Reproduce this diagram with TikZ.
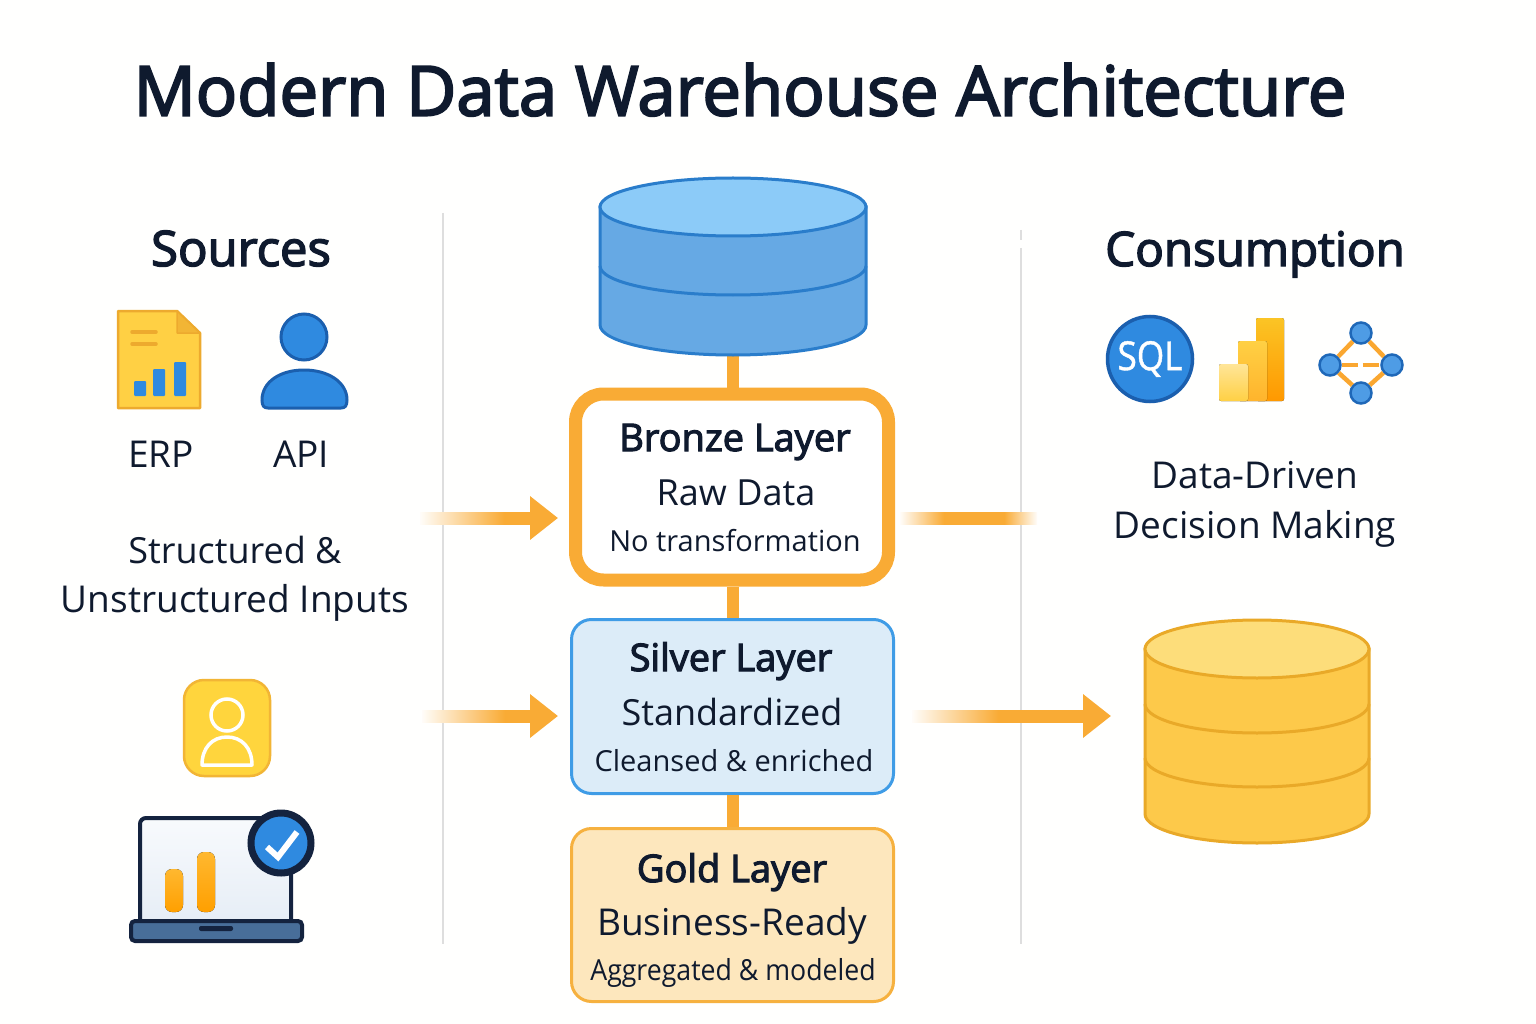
\documentclass[tikz,border=0pt]{standalone}
\usepackage{fontspec}
\setmainfont{Open Sans}
\newfontfamily\semifont{Open Sans}[FakeBold=3]
\newfontfamily\narrowfont{Open Sans}[FakeStretch=0.92]
\newfontfamily\sqlfont{Open Sans}[FakeStretch=0.88, FakeBold=1]
\usetikzlibrary{arrows.meta,calc}

\definecolor{inkc}{HTML}{0F1A2E}
\definecolor{linkc}{HTML}{F9AB35}
\colorlet{linkfade}{linkc!3}
\definecolor{rulec}{HTML}{DEDEDE}
\definecolor{bluefill}{HTML}{2F8AE0}
\definecolor{blueline}{HTML}{1B5FAE}
\definecolor{yellowfill}{HTML}{FFD044}
\definecolor{yellowline}{HTML}{EDAA2E}
\definecolor{navyc}{HTML}{14233F}
\definecolor{silverfill}{HTML}{DCECF8}
\definecolor{silverline}{HTML}{3F9CE6}
\definecolor{goldfill}{HTML}{FDE7BD}
\definecolor{goldline}{HTML}{F6B13F}
\definecolor{rawbody}{HTML}{66A9E4}
\definecolor{rawtop}{HTML}{8CCBF8}
\definecolor{rawline}{HTML}{2A7DCB}
\definecolor{martbody}{HTML}{FDC94A}
\definecolor{marttop}{HTML}{FDDD7A}
\definecolor{martline}{HTML}{E9A928}

\pgfdeclarehorizontalshading{fadeshort}{100bp}{color(0bp)=(linkfade); color(25bp)=(linkfade); color(63bp)=(linkc); color(100bp)=(linkc)}
\pgfdeclarehorizontalshading{fadelong}{100bp}{color(0bp)=(linkfade); color(25bp)=(linkfade); color(50bp)=(linkc); color(100bp)=(linkc)}
\pgfdeclarehorizontalshading{fadeboth}{100bp}{color(0bp)=(linkfade); color(25bp)=(linkfade); color(41bp)=(linkc); color(63bp)=(linkc); color(75bp)=(linkfade); color(100bp)=(linkfade)}

\tikzset{
    titletext/.style={anchor=base, text=inkc, font=\semifont\fontsize{68.8}{68}\selectfont},
    headtext/.style={anchor=base, text=inkc, font=\semifont\fontsize{49}{49}\selectfont},
    bodytext/.style={anchor=base, text=inkc, font=\fontsize{37}{37}\selectfont},
    layername/.style={anchor=base, text=inkc, font=\semifont\fontsize{38}{38}\selectfont},
    layersub/.style={anchor=base, text=inkc, font=\fontsize{36}{36}\selectfont},
    layernote/.style={anchor=base, text=inkc, font=\fontsize{29}{29}\selectfont},
    layerbox/.style={draw, minimum width=322pt, minimum height=174pt, rounded corners=20pt, line width=3pt},
    link/.style={draw=linkc, line width=12pt},
    flowarrow/.style={draw=linkc, fill=linkc, line width=12pt, -{Triangle[length=28pt, width=42pt]}},
    netnode/.style={circle, draw=blueline!80!bluefill, fill=bluefill!85!white, line width=2.5pt, minimum size=21pt, inner sep=0pt},
    netline/.style={draw=linkc!90!orange, line width=4.5pt},
    rulerline/.style={draw=rulec, line width=1.5pt},
}

\begin{document}
\begin{tikzpicture}[x=1pt, y=-1pt]
    \useasboundingbox (0,0) rectangle (1536,1024);
    \fill[white!99.5!yellow] (0,0) rectangle (1536,1024);

    % Titulo
    \node[titletext] (title) at (740,115.5) {Modern Data Warehouse Architecture};

    % Separadores
    \draw[rulerline] (443,213) -- (443,944);
    \draw[rulerline] (1021,230) -- (1021,240);
    \draw[rulerline] (1021,248) -- (1021,944);

    % Capas
    \node[layerbox, draw=linkc, fill=white, minimum width=313pt, minimum height=186pt, rounded corners=28pt, line width=13pt] (bronze) at (732,487) {};
    \node[layerbox, draw=silverline, fill=silverfill] (silver) at (732.5,706.5) {};
    \node[layerbox, draw=goldline, fill=goldfill, minimum height=173pt] (gold) at (732.5,915) {};

    \node[layername] (bronzename) at (735,451) {Bronze Layer};
    \node[layersub] (bronzesub) at (736,505) {Raw Data};
    \node[layernote] (bronzenote) at (735,551) {No transformation};
    \node[layername] (silvername) at (731,671) {Silver Layer};
    \node[layersub] (silversub) at (732,725) {Standardized};
    \node[layernote] (silvernote) at (734,771) {Cleansed \& enriched};
    \node[layername] (goldname) at (732,882) {Gold Layer};
    \node[layersub, font=\fontsize{37}{37}\selectfont] (goldsub) at (732,935) {Business-Ready};
    \node[layernote, font=\narrowfont\fontsize{29}{29}\selectfont] (goldnote) at (733,980) {Aggregated \& modeled};

    % Enlaces verticales
    \coordinate (rawbase) at (733,345);
    \draw[link] (rawbase) -- (rawbase |- bronze.north);
    \draw[link] (bronze.south -| rawbase) -- (silver.north -| rawbase);
    \draw[link] (silver.south -| rawbase) -- (gold.north -| rawbase);

    % Cilindro azul
    \begin{scope}[draw=rawline, line width=3pt]
        \draw[fill=rawbody] (600,207) -- (600,325) arc[start angle=180, end angle=0, x radius=133, y radius=30] -- (866,207) -- cycle;
        \draw (600,266) arc[start angle=180, end angle=0, x radius=133, y radius=29];
        \draw[fill=rawtop] (733,207) ellipse[x radius=133, y radius=29];
    \end{scope}

    % Cilindro dorado
    \begin{scope}[draw=martline, line width=3pt]
        \draw[fill=martbody] (1145,649) -- (1145,814) arc[start angle=180, end angle=0, x radius=112, y radius=29] -- (1369,649) -- cycle;
        \draw (1145,704) arc[start angle=180, end angle=0, x radius=112, y radius=29];
        \draw (1145,758) arc[start angle=180, end angle=0, x radius=112, y radius=29];
        \draw[fill=marttop] (1257,649) ellipse[x radius=112, y radius=29];
    \end{scope}

    % Flechas
    \coordinate (goldin) at (1111,716);
    \coordinate (bronzeleft) at (528,518);
    \coordinate (silverleft) at (528,716);
    \coordinate (silverright) at (1081,716);
    \shade[shading=fadeshort] (420,512) rectangle (531,524);
    \draw[flowarrow, shorten >=11pt] (bronzeleft) -- (bronzeleft -| bronze.west);
    \shade[shading=fadeshort] (422,710) rectangle (531,722);
    \draw[flowarrow, shorten >=12pt] (silverleft) -- (silverleft -| silver.west);
    \shade[shading=fadeboth] (900,512) rectangle (1037,524);
    \shade[shading=fadelong] (912,710) rectangle (1085,722);
    \draw[flowarrow] (silverright) -- (goldin);

    % Fuentes
    \node[headtext] (sources) at (241,266) {Sources};
    \draw[fill=yellowfill, draw=yellowline, line width=2.5pt, line join=round] (118,311) -- (177,311) -- (200,333) -- (200,408) -- (118,408) -- cycle;
    \draw[fill=yellowline!70!yellowfill, draw=yellowline, line width=1.5pt, line join=round] (177,311) -- (177,333) -- (200,333) -- cycle;
    \draw[yellowline, line width=3.5pt, line cap=round] (132,332) -- (156,332);
    \draw[yellowline, line width=3.5pt, line cap=round] (132,344) -- (156,344);
    \foreach \barx/\bartop in {134/381, 153/369, 174/362} {
        \fill[bluefill, rounded corners=1pt] (\barx,\bartop) rectangle (\barx+12,396);
    }
    \node[bodytext] (erp) at (161,467) {ERP};

    \draw[fill=bluefill, draw=blueline, line width=3pt] (304,337) circle[radius=23];
    \draw[fill=bluefill, draw=blueline, line width=3pt] (262,400) .. controls (262,382) and (280,370) .. (304,370) .. controls (328,370) and (347,382) .. (347,400) .. controls (347,406) and (345,408) .. (341,408) -- (268,408) .. controls (264,408) and (262,406) .. (262,400) -- cycle;
    \node[bodytext] (api) at (301,467) {API};

    \node[bodytext, font=\fontsize{36}{36}\selectfont] (inputsa) at (235,563) {Structured \&};
    \node[bodytext] (inputsb) at (235,612) {Unstructured Inputs};

    % Icono usuario
    \draw[fill=yellowfill!90!yellow, draw=yellowline!70!yellowfill, line width=2.5pt, rounded corners=20pt] (184,680) rectangle (270,776);
    \draw[white, line width=3.5pt] (227,715) circle[radius=16];
    \draw[white, line width=3.5pt, line join=round] (202,765) .. controls (202,748) and (212,737) .. (227,737) .. controls (242,737) and (252,748) .. (252,765) -- cycle;

    % Portatil
    \draw[draw=navyc, line width=4pt, top color=blueline!3!white, bottom color=blueline!11!white, rounded corners=6pt] (140,922) -- (140,818) -- (291,818) -- (291,922);
    \foreach \barx/\bartop in {165/869, 197/852} {
        \fill[top color=yellowfill!70!orange, bottom color=orange!75!yellow, rounded corners=7pt] (\barx,\bartop) rectangle (\barx+18,912);
    }
    \draw[draw=navyc, fill=blueline!55!gray, line width=4pt, rounded corners=4pt] (131,921) rectangle (302,941);
    \fill[navyc, rounded corners=2pt] (199,926) rectangle (233,931);
    \draw[draw=navyc, fill=bluefill, line width=7pt] (281,843) circle[radius=30];
    \draw[white, line width=6pt, line join=miter] (267,847) -- (278,857) -- (297,832);

    % Consumo
    \node[headtext, font=\semifont\fontsize{47.5}{48}\selectfont] (consumption) at (1255,266) {Consumption};
    \node[circle, draw=blueline, fill=bluefill, line width=3.5pt, minimum size=85pt, inner sep=0pt, text=white, font=\sqlfont\fontsize{40}{40}\selectfont] (sql) at (1150,359) {\raisebox{-4pt}{SQL}};

    \fill[top color=linkc!70!yellow, bottom color=orange!85!red!70!yellow, rounded corners=2pt] (1256,318) rectangle (1284,401);
    \fill[top color=yellowfill, bottom color=yellowfill!65!orange, rounded corners=2pt] (1238,341) rectangle (1267,401);
    \fill[top color=yellowfill!55!white, bottom color=yellowfill, rounded corners=2pt] (1219,364) rectangle (1248,401);

    \node[netnode] (nettop) at (1361,333) {};
    \node[netnode] (netleft) at (1330,365) {};
    \node[netnode] (netright) at (1392,365) {};
    \node[netnode] (netbottom) at (1361,393) {};
    \draw[netline] (nettop) -- (netleft);
    \draw[netline] (nettop) -- (netright);
    \draw[netline] (netbottom) -- (netleft);
    \draw[netline] (netbottom) -- (netright);
    \draw[netline, dash pattern=on 16pt off 5pt] (netleft) -- (netright);

    \node[bodytext] (drivena) at (1255,488) {Data-Driven};
    \node[bodytext] (drivenb) at (1255,538) {Decision Making};
\end{tikzpicture}
\end{document}
